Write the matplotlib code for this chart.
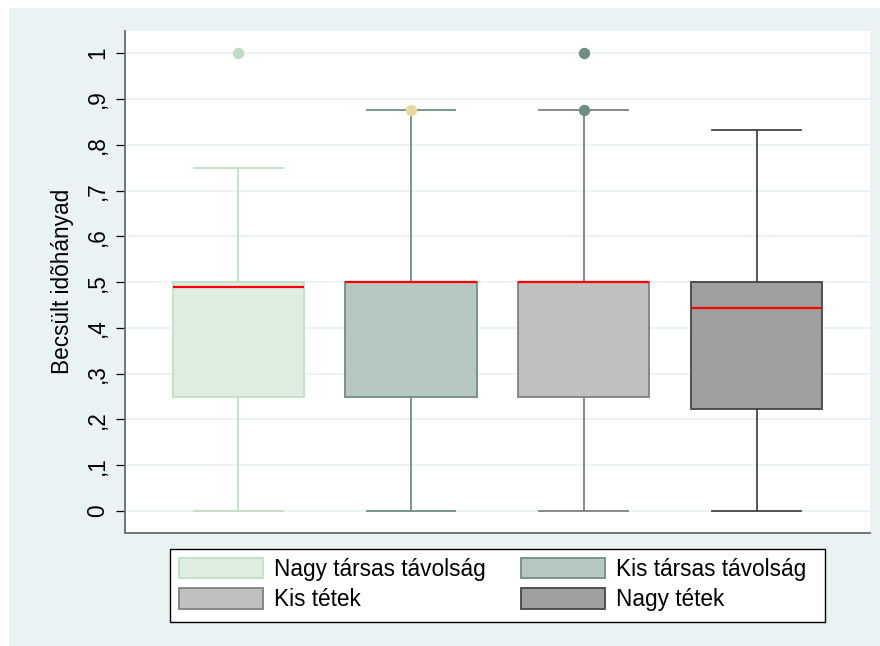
import matplotlib
matplotlib.use("Agg")
import matplotlib.pyplot as plt
from matplotlib.patches import Patch, Rectangle

plt.rcParams["font.family"] = ["Liberation Sans", "DejaVu Sans"]

# Box summaries per group
groups = ["Nagy társas távolság", "Kis társas távolság", "Kis tétek", "Nagy tétek"]
whisker_low = [0.0, 0.0, 0.0, 0.0]
q1 = [0.25, 0.25, 0.25, 0.222]
median = [0.49, 0.5, 0.5, 0.444]
q3 = [0.5, 0.5, 0.5, 0.5]
whisker_high = [0.75, 0.875, 0.875, 0.833]
outliers = [[1.0], [0.875], [0.875, 1.0], []]

ytick_values = [0, 0.1, 0.2, 0.3, 0.4, 0.5, 0.6, 0.7, 0.8, 0.9, 1.0]
ytick_labels = ["0", ",1", ",2", ",3", ",4", ",5", ",6", ",7", ",8", ",9", "1"]

fills = ["#DFEDE0", "#B7C8C1", "#C0C0C0", "#A0A0A0"]
edges = ["#C3DFC5", "#6D8F81", "#808080", "#464646"]
flier_colors = ["#BEDCC1", "#E7D9A0", "#6D8F81", "#6D8F81"]
bg = "#EAF2F3"
fs = 16.3
W, H = 880, 646

fig = plt.figure(figsize=(8.8, 6.46), dpi=100, facecolor="white")
# graph region background (white strip at top and left)
fig.patches.append(Rectangle((9 / W, 0), 1 - 9 / W, 1 - 8 / H,
                             transform=fig.transFigure, facecolor=bg,
                             edgecolor="none", zorder=-10))

ax = fig.add_axes([125 / W, 113 / H, 745 / W, (533 - 30.7) / H])
ax.set_facecolor("white")

positions = [1, 2, 3, 4]
for i, pos in enumerate(positions):
    stats = [{
        "whislo": whisker_low[i], "q1": q1[i], "med": median[i],
        "q3": q3[i], "whishi": whisker_high[i], "fliers": outliers[i],
    }]
    ax.bxp(stats, positions=[pos], widths=0.76, capwidths=0.514,
           patch_artist=True, showfliers=True,
           boxprops=dict(facecolor=fills[i], edgecolor=edges[i], linewidth=1.3),
           whiskerprops=dict(color=edges[i], linewidth=1.3),
           capprops=dict(color=edges[i], linewidth=1.3),
           medianprops=dict(color="#FF0000", linewidth=1.6),
           flierprops=dict(marker="o", markersize=8.2, markerfacecolor=flier_colors[i],
                           markeredgecolor="none", linestyle="none"),
           zorder=3)

ax.set_xlim(0.344, 4.657)
ax.set_ylim(-0.048, 1.049)
ax.set_xticks([])
ax.set_yticks(ytick_values)
ax.set_yticklabels(ytick_labels, rotation=90, va="center", fontsize=fs)
ax.tick_params(axis="y", length=6.5, width=0.9, color="black", pad=5)
ax.yaxis.grid(True, color=bg, linewidth=1.3, zorder=0)
ax.set_axisbelow(True)

for side in ["top", "right"]:
    ax.spines[side].set_visible(False)
for side in ["left", "bottom"]:
    ax.spines[side].set_color("#6A6A6A")
    ax.spines[side].set_linewidth(1.3)

ax.set_ylabel("Becsült idõhányad", fontsize=fs, labelpad=9)

# legend frame drawn as a plain box in figure pixels
fig.patches.append(Rectangle((169.5 / W, (H - 621.5) / H), (825 - 169.5) / W, 73 / H,
                             transform=fig.transFigure, facecolor="white",
                             edgecolor="black", linewidth=1.0, zorder=1))

# legend entries listed column by column so rows read across
order = [0, 2, 1, 3]
handles = [Patch(facecolor=fills[i], edgecolor=edges[i], linewidth=1.3, label=groups[i])
           for i in order]
leg = fig.legend(handles=handles, ncol=2, loc="upper left",
                 bbox_to_anchor=(179 / W, (H - 557.8) / H),
                 fontsize=fs, frameon=False,
                 handlelength=3.7, handleheight=1.0, handletextpad=0.5,
                 columnspacing=1.55, labelspacing=0.33, borderpad=0,
                 borderaxespad=0)
leg.set_zorder(2)

fig.savefig("out.png", dpi=100, facecolor=fig.get_facecolor())
